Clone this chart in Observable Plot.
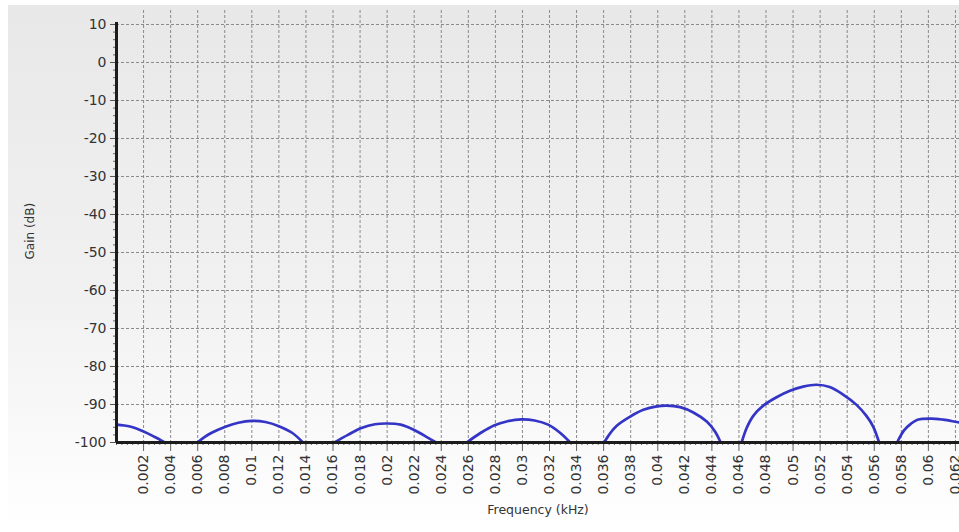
<!DOCTYPE html>
<html>
<head>
<meta charset="utf-8">
<script src="https://cdn.jsdelivr.net/npm/d3@7"></script>
<script src="https://cdn.jsdelivr.net/npm/@observablehq/plot@0.6"></script>
<style>
  html, body { margin: 0; padding: 0; background: #ffffff; }
  #panel {
    position: absolute; left: 8px; top: 5px; width: 951px; height: 527px;
    background: linear-gradient(to bottom, #e8e8e8 0%, #f1f1f1 55%, #ffffff 100%);
  }
  #panel svg { display: block; background: transparent; }
</style>
</head>
<body>
<div id="panel"></div>
<script>
// Frequency response samples (kHz, dB), one arch per lobe; the floor is -100 dB.
const freq = [
  0, 0.001, 0.002, 0.0028, 0.00357,
  0.00598, 0.0065, 0.007, 0.008, 0.009, 0.010, 0.011, 0.012, 0.013, 0.01378,
  0.01611, 0.0171, 0.0181, 0.0191, 0.0200, 0.0210, 0.0220, 0.0230, 0.02362,
  0.02588, 0.0269, 0.0279, 0.0289, 0.0299, 0.0309, 0.0319, 0.0328, 0.03353,
  0.03604, 0.03648, 0.03697, 0.03796, 0.03894, 0.03993, 0.04066, 0.04165, 0.04263, 0.04362, 0.04423, 0.04465,
  0.0462, 0.04657, 0.04706, 0.0478, 0.04878, 0.04977, 0.05075, 0.05173, 0.05271, 0.0537, 0.05469, 0.05542, 0.05592, 0.05636,
  0.05769, 0.0582, 0.0587, 0.0592, 0.0602, 0.0611, 0.0621, 0.0623
];
const gain = [
  -95.3, -95.8, -97.1, -98.5, -100,
  -100, -98.6, -97.5, -95.9, -94.8, -94.3, -94.6, -95.7, -97.5, -100,
  -100, -98.0, -96.2, -95.2, -95.0, -95.3, -96.7, -98.7, -100,
  -100, -97.5, -95.5, -94.4, -93.9, -94.2, -95.3, -97.5, -100,
  -100, -97.6, -95.6, -93.2, -91.4, -90.5, -90.3, -90.7, -92.1, -94.5, -97.1, -100,
  -100, -96.2, -93.0, -90.3, -88.1, -86.4, -85.3, -84.8, -85.4, -87.4, -90.1, -93.0, -95.8, -100,
  -100, -96.8, -95.1, -94.0, -93.7, -94.0, -94.6, -94.7
];
const lobe = [
  0, 0, 0, 0, 0,
  1, 1, 1, 1, 1, 1, 1, 1, 1, 1,
  2, 2, 2, 2, 2, 2, 2, 2, 2,
  3, 3, 3, 3, 3, 3, 3, 3, 3,
  4, 4, 4, 4, 4, 4, 4, 4, 4, 4, 4, 4,
  5, 5, 5, 5, 5, 5, 5, 5, 5, 5, 5, 5, 5, 5,
  6, 6, 6, 6, 6, 6, 6, 6
];

// Axis ticks
const xTicks = [0.002, 0.004, 0.006, 0.008, 0.01, 0.012, 0.014, 0.016, 0.018, 0.02,
  0.022, 0.024, 0.026, 0.028, 0.03, 0.032, 0.034, 0.036, 0.038, 0.04, 0.042, 0.044,
  0.046, 0.048, 0.05, 0.052, 0.054, 0.056, 0.058, 0.06, 0.062];
const yTicks = [-100, -90, -80, -70, -60, -50, -40, -30, -20, -10, 0, 10];
const xMinor = d3.range(0, 0.0624, 0.0004);
const yMinor = d3.range(-100, 10.01, 2);

const data = freq.map((f, i) => ({f, g: gain[i], lobe: lobe[i]}));
const font = "DejaVu Sans, Verdana, sans-serif";

const chart = Plot.plot({
  width: 951,
  height: 527,
  marginLeft: 108,
  marginRight: 0,
  marginTop: 5,
  marginBottom: 90,
  style: {fontFamily: font, color: "#333", background: "transparent"},
  x: {domain: [0, 0.0623]},
  y: {domain: [-100, 13.68]},
  marks: [
    Plot.gridX(xTicks, {stroke: "#8a8a8a", strokeOpacity: 1, strokeDasharray: "3,2"}),
    Plot.gridY(yTicks, {stroke: "#8a8a8a", strokeOpacity: 1, strokeDasharray: "3,2"}),
    Plot.axisX(xMinor, {tickSize: 3, text: null, label: null, stroke: "#666"}),
    Plot.axisY(yMinor, {tickSize: 3, text: null, label: null, stroke: "#666"}),
    Plot.axisX(xTicks, {
      tickSize: 9, tickPadding: 3, tickRotate: -90, fontSize: 14, label: null,
      stroke: "#666", fill: "#333",
      tickFormat: d => String(+d.toFixed(3))
    }),
    Plot.axisY(yTicks, {
      tickSize: 6, tickPadding: 4, fontSize: 14, label: null,
      stroke: "#555", fill: "#333",
      tickFormat: d => String(d)
    }),
    Plot.line(data, {x: "f", y: "g", z: "lobe", stroke: "#3434c6", strokeWidth: 2.7, curve: "catmull-rom"}),
    Plot.ruleY([-100], {stroke: "#1c1c1c", strokeWidth: 3}),
    Plot.ruleX([0], {y1: -100, y2: 10.5, stroke: "#1c1c1c", strokeWidth: 3}),
    Plot.text(["Frequency (kHz)"], {
      frameAnchor: "bottom", dy: 67, lineAnchor: "middle",
      fontSize: 12.5, fill: "#333"
    }),
    Plot.text(["Gain (dB)"], {
      frameAnchor: "left", dx: -86, dy: 33, rotate: -90, lineAnchor: "middle",
      fontSize: 12, fill: "#333"
    })
  ]
});

document.getElementById("panel").appendChild(chart);
</script>
</body>
</html>
